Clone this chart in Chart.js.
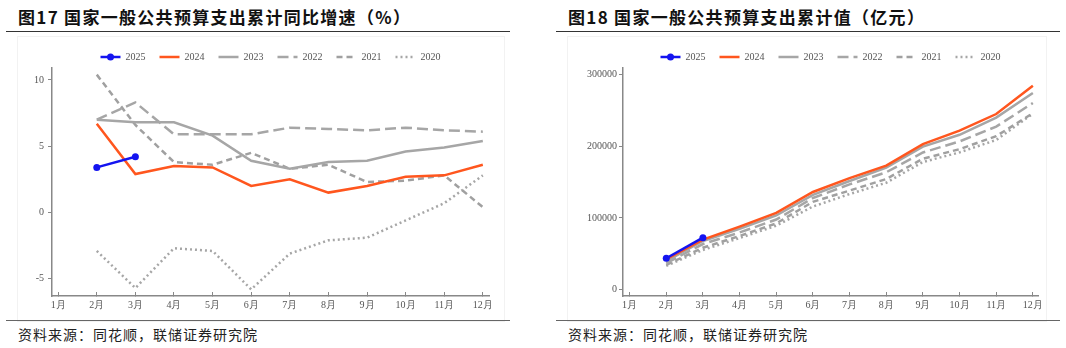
<!DOCTYPE html>
<html>
<head>
<meta charset="utf-8">
<script src="https://cdn.jsdelivr.net/npm/chart.js@4.4.1/dist/chart.umd.min.js"></script>
<style>
body{margin:0;width:1066px;height:348px;background:#fff;position:relative;overflow:hidden;font-family:"Noto Sans CJK SC",sans-serif}
.title{position:absolute;top:4px;font-size:17px;font-weight:bold;color:#111;letter-spacing:1.3px;white-space:nowrap}
.rule{position:absolute;height:0;border-top:1.5px solid #333}
.src{position:absolute;top:324px;font-size:14px;color:#222;letter-spacing:1px;white-space:nowrap}
.frame{position:absolute;border:1px solid #f2f2f2}
canvas{position:absolute;top:20px}
</style>
</head>
<body>
<div class="title" style="left:18px">图17 国家一般公共预算支出累计同比增速（%）</div>
<div class="rule" style="left:6px;width:504px;top:31px"></div>
<div class="frame" style="left:17px;top:36px;width:486px;height:284px"></div>
<canvas id="growth-chart" width="515" height="300" style="left:0"></canvas>
<div class="rule" style="left:6px;width:504px;top:320px;border-color:#666"></div>
<div class="src" style="left:18px">资料来源：同花顺，联储证券研究院</div>

<div class="title" style="left:568px">图18 国家一般公共预算支出累计值（亿元）</div>
<div class="rule" style="left:556px;width:504px;top:31px"></div>
<div class="frame" style="left:567px;top:36px;width:478px;height:284px"></div>
<canvas id="value-chart" width="504" height="300" style="left:556px"></canvas>
<div class="rule" style="left:556px;width:504px;top:320px;border-color:#666"></div>
<div class="src" style="left:568px">资料来源：同花顺，联储证券研究院</div>

<script>
// categories
var months = ['1月','2月','3月','4月','5月','6月','7月','8月','9月','10月','11月','12月'];
var monthNums = [1,2,3,4,5,6,7,8,9,10,11,12];
var years = ['2025','2024','2023','2022','2021','2020'];

// 累计同比增速 (%)
var growth2025 = [null, 3.4, 4.2];
var growth2024 = [null, 6.7, 2.9, 3.5, 3.4, 2.0, 2.5, 1.5, 2.0, 2.7, 2.8, 3.6];
var growth2023 = [null, 7.0, 6.8, 6.8, 5.8, 3.9, 3.3, 3.8, 3.9, 4.6, 4.9, 5.4];
var growth2022 = [null, 7.0, 8.3, 5.9, 5.9, 5.9, 6.4, 6.3, 6.2, 6.4, 6.2, 6.1];
var growth2021 = [null, 10.4, 6.6, 3.8, 3.6, 4.5, 3.3, 3.6, 2.3, 2.4, 2.8, 0.4];
var growth2020 = [null, -2.9, -5.7, -2.7, -2.9, -5.8, -3.1, -2.1, -1.9, -0.6, 0.7, 2.8];

// 累计值 (亿元)
var value2025 = [null, 43771, 72507];
var value2024 = [null, 42312, 69652, 87981, 107099, 136281, 155744, 173111, 203127, 221916, 245195, 284612];
var value2023 = [null, 39518, 67876, 85000, 103500, 132300, 151600, 170300, 199700, 216200, 240200, 274574];
var value2022 = [null, 36900, 63600, 79700, 97800, 127900, 146900, 163800, 191500, 206900, 227600, 260609];
var value2021 = [null, 34500, 58400, 74800, 92400, 122600, 138300, 154400, 182800, 196100, 214300, 246322];
var value2020 = [null, 33000, 55300, 72000, 89200, 116000, 133400, 149200, 178200, 191600, 209000, 245588];

// tick labels
var growthTicks = [-5, 0, 5, 10];
var valueTicks = [0, 100000, 200000, 300000];

var lineStyles = [
    {color: '#1414f0', dash: [], width: 2.5, radius: 3.5},
    {color: '#ff561e', dash: [], width: 2.5, radius: 0},
    {color: '#a6a6a6', dash: [], width: 2.5, radius: 0},
    {color: '#a6a6a6', dash: [11, 5], width: 2.5, radius: 0},
    {color: '#a0a0a0', dash: [6, 4], width: 2.5, radius: 0},
    {color: '#a6a6a6', dash: [2, 3], width: 2.5, radius: 0}
];

var tickFont = {family: '"Liberation Serif", serif', size: 10};

// dot on the 2025 legend sample; legend centred over the plot area, a little lower
var legendExtra = {
    id: 'legendExtra',
    afterLayout: function (chart) {
        var dx = chart.scales.y.width / 2;
        chart.legend.top += 4;
        chart.legend.bottom += 4;
        chart.legend.left += dx;
        chart.legend.right += dx;
    },
    afterDraw: function (chart) {
        var box = chart.legend.legendHitBoxes[0];
        if (!box) return;
        var ctx = chart.ctx;
        ctx.save();
        ctx.fillStyle = lineStyles[0].color;
        ctx.beginPath();
        ctx.arc(box.left + 10, chart.legend.top + 14 + 5, 3.5, 0, Math.PI * 2);
        ctx.fill();
        ctx.restore();
    }
};

function buildDatasets(series) {
    return series.map(function (vals, i) {
        var s = lineStyles[i];
        return {
            label: years[i],
            data: vals.map(function (v, k) { return {x: monthNums[k], y: v}; }),
            borderColor: s.color,
            backgroundColor: s.color,
            borderDash: s.dash,
            borderWidth: s.width,
            pointRadius: s.radius,
            pointHoverRadius: s.radius,
            pointBackgroundColor: s.color,
            pointBorderWidth: 0,
            tension: 0,
            spanGaps: false
        };
    });
}

function legendLabels(chart) {
    return chart.data.datasets.map(function (ds, i) {
        return {
            text: ds.label,
            datasetIndex: i,
            fillStyle: ds.borderColor,
            strokeStyle: ds.borderColor,
            lineWidth: ds.borderWidth,
            lineDash: ds.borderDash,
            lineCap: 'butt',
            pointStyle: 'line',
            fontColor: '#555',
            hidden: false
        };
    });
}

function makeChart(id, series, yTicks, yMin, yMax, yWidth, rightPad, xMin, xMax, yPad) {
    var ctx = document.getElementById(id);
    return new Chart(ctx, {
        type: 'line',
        data: {datasets: buildDatasets(series)},
        options: {
            responsive: false,
            animation: false,
            layout: {padding: {top: 14, right: rightPad, bottom: 0, left: 0}},
            plugins: {
                tooltip: {enabled: false},
                legend: {
                    position: 'top',
                    labels: {
                        usePointStyle: true,
                        pointStyle: 'line',
                        pointStyleWidth: 20,
                        padding: 14,
                        color: '#555',
                        font: tickFont,
                        generateLabels: legendLabels
                    }
                }
            },
            scales: {
                x: {
                    type: 'linear',
                    min: xMin,
                    max: xMax,
                    afterBuildTicks: function (scale) {
                        scale.ticks = monthNums.map(function (v) { return {value: v}; });
                    },
                    afterFit: function (scale) { scale.height = 24; },
                    border: {color: '#888', width: 1.5},
                    grid: {drawOnChartArea: false, drawTicks: true, tickLength: -4, color: '#888', lineWidth: 1},
                    ticks: {
                        color: '#555',
                        font: tickFont,
                        padding: 7,
                        maxRotation: 0,
                        autoSkip: false,
                        callback: function (v) { return months[v - 1]; }
                    }
                },
                y: {
                    min: yMin,
                    max: yMax,
                    afterBuildTicks: function (scale) {
                        scale.ticks = yTicks.map(function (v) { return {value: v}; });
                    },
                    afterFit: function (scale) { scale.width = yWidth; },
                    border: {color: '#888', width: 1.5},
                    grid: {drawOnChartArea: false, drawTicks: true, tickLength: 4, color: '#888', lineWidth: 1},
                    ticks: {
                        color: '#555',
                        font: tickFont,
                        padding: yPad,
                        callback: function (v) { return String(v); }
                    }
                }
            }
        },
        plugins: [legendExtra]
    });
}

makeChart('growth-chart',
    [growth2025, growth2024, growth2023, growth2022, growth2021, growth2020],
    growthTicks, -6.3, 10.9, 52, 26, 0.84, 12.16, 4);

makeChart('value-chart',
    [value2025, value2024, value2023, value2022, value2021, value2020],
    valueTicks, -9000, 309500, 67, 22, 0.82, 12.14, 2);
</script>
</body>
</html>
